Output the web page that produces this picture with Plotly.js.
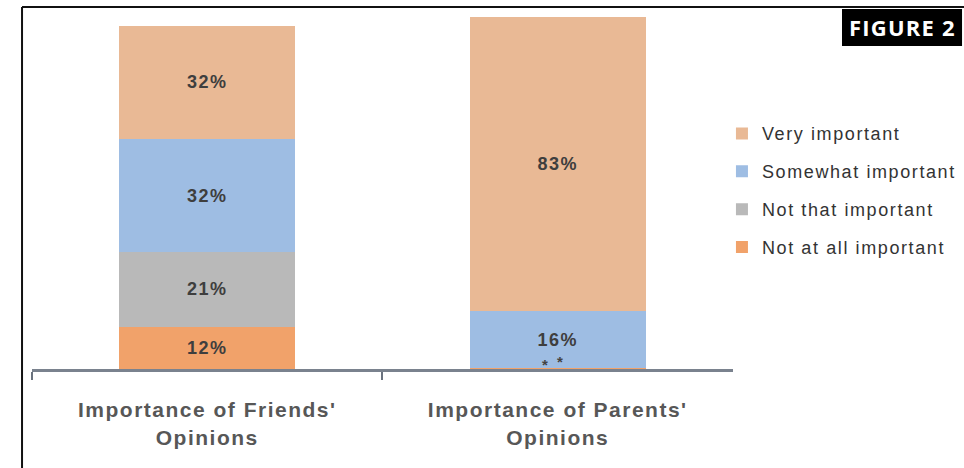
<!DOCTYPE html>
<html>
<head>
<meta charset="utf-8">
<script src="https://cdn.plot.ly/plotly-3.0.1.min.js"></script>
<style>
html,body{margin:0;padding:0;background:#fff;}
#chart{width:964px;height:468px;}
.xtick text{letter-spacing:1.5px;}
.legendtext{letter-spacing:1.6px;}
text.bartext{letter-spacing:1.5px;}
.annotation-text{letter-spacing:1.2px;}
</style>
</head>
<body>
<div id="chart"></div>
<script>
// ---- data ----
const categories = ["Importance of Friends'<br>Opinions", "Importance of Parents'<br>Opinions"];
const seriesNames = ["Not at all important", "Not that important", "Somewhat important", "Very important"];
const notAtAllImportant = [12, 0.15];
const notThatImportant = [21, 0.15];
const somewhatImportant = [32, 16];
const veryImportant = [32, 83];
const seriesColors = ["#f1a26a", "#b9b9b9", "#9ebde3", "#e9b995"];

const seriesValues = [notAtAllImportant, notThatImportant, somewhatImportant, veryImportant];

function label(v){ return v >= 1 ? v + "%" : ""; }

const traces = seriesValues.map((vals, i) => ({
  type: "bar",
  name: seriesNames[i],
  legendgroup: "g" + i,
  legendrank: seriesValues.length - i,
  x: categories,
  y: vals,
  text: vals.map(label),
  textposition: "inside",
  insidetextanchor: "middle",
  textangle: 0,
  insidetextfont: {family: "Liberation Sans, Arial, sans-serif", size: 18, color: "#3e3e3e", weight: "bold"},
  marker: {color: seriesColors[i], line: {width: 0}},
  hoverinfo: "skip"
}));

// asterisks for values under 1%
const annotations = [];
seriesValues.forEach((vals, i) => {
  vals.forEach((v, j) => {
    if (v < 1) {
      annotations.push({
        x: categories[j], y: 0, xref: "x", yref: "y",
        text: "*", showarrow: false, xanchor: "center", yanchor: "bottom",
        xshift: i === 0 ? -12 : 3, yshift: i === 0 ? -6 : -3,
        font: {family: "Liberation Sans, Arial, sans-serif", size: 15, color: "#444", weight: "bold"}
      });
    }
  });
});

annotations.push({
  x: 0.9335, y: 0.966, xref: "paper", yref: "paper",
  xanchor: "center", yanchor: "middle",
  text: "FIGURE 2", showarrow: false,
  font: {family: "Open Sans, sans-serif", size: 22, color: "#ffffff", weight: "bold"}
});

const layout = {
  width: 964, height: 468,
  margin: {l: 32, r: 0, t: 15, b: 99},
  paper_bgcolor: "#ffffff", plot_bgcolor: "#ffffff",
  barmode: "stack",
  bargap: 0.497,
  showlegend: true,
  legend: {
    x: 0.7403, y: 0.717, xanchor: "left", yanchor: "top",
    traceorder: "grouped",
    tracegroupgap: 11.5,
    font: {family: "Liberation Sans, Arial, sans-serif", size: 18, color: "#333"},
    bgcolor: "rgba(0,0,0,0)"
  },
  xaxis: {
    type: "category",
    domain: [0, 0.7521],
    showline: true, linecolor: "#7a828e", linewidth: 3,
    ticks: "outside", tickson: "boundaries", ticklen: 8, tickwidth: 2, tickcolor: "#6a727e",
    ticklabelstandoff: 20,
    tickfont: {family: "Liberation Sans, Arial, sans-serif", size: 21, color: "#575757", weight: "bold"},
    showgrid: false, zeroline: false, fixedrange: true
  },
  yaxis: {
    range: [0, 100], visible: false, showgrid: false, zeroline: false, fixedrange: true
  },
  shapes: [
    {type: "line", xref: "paper", yref: "paper", x0: -0.0107, x1: -0.0107, y0: -0.30, y1: 1.0226, line: {color: "#111", width: 2}},
    {type: "line", xref: "paper", yref: "paper", x0: -0.0107, x1: 1.0, y0: 1.0226, y1: 1.0226, line: {color: "#111", width: 2}},
    {type: "rect", layer: "below", xref: "paper", yref: "paper", x0: 0.8691, x1: 0.9979, y0: 0.9124, y1: 1.0169, fillcolor: "#000", line: {width: 0}}
  ],
  annotations: annotations
};

Plotly.newPlot("chart", traces, layout, {displayModeBar: false, staticPlot: true});
</script>
</body>
</html>
